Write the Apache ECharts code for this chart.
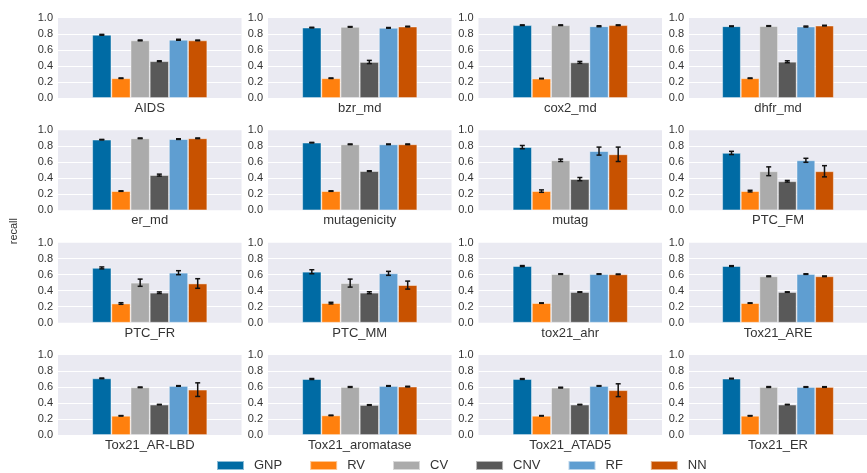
<!DOCTYPE html>
<html>
<head>
<meta charset="utf-8">
<script src="https://cdn.jsdelivr.net/npm/echarts@6/dist/echarts.min.js"></script>
<style>html,body{margin:0;padding:0;background:#fff}#c{width:867px;height:473px}</style>
</head>
<body>
<div id="c"></div>
<script>
// ---- data ----
const datasets = ['AIDS','bzr_md','cox2_md','dhfr_md','er_md','mutagenicity','mutag','PTC_FM',
  'PTC_FR','PTC_MM','tox21_ahr','Tox21_ARE','Tox21_AR-LBD','Tox21_aromatase','Tox21_ATAD5','Tox21_ER'];
const methods = ['GNP','RV','CV','CNV','RF','NN'];
const yTicks = [0.0, 0.2, 0.4, 0.6, 0.8, 1.0];

const GNP     = [0.79,0.88,0.91,0.897, 0.883,0.846,0.79,0.717, 0.685,0.637,0.708,0.708, 0.708,0.70,0.70,0.705];
const GNP_err = [0.005,0.004,0.004,0.004, 0.003,0.003,0.02,0.02, 0.012,0.025,0.006,0.005, 0.004,0.006,0.005,0.004];
const RV      = [0.247,0.247,0.243,0.247, 0.24,0.24,0.24,0.24, 0.24,0.245,0.245,0.245, 0.24,0.245,0.24,0.24];
const RV_err  = [0.003,0.003,0.003,0.003, 0.003,0.003,0.015,0.01, 0.01,0.01,0.003,0.003, 0.003,0.003,0.003,0.003];
const CV      = [0.72,0.889,0.91,0.90, 0.90,0.825,0.625,0.488, 0.50,0.495,0.608,0.58, 0.596,0.60,0.592,0.60];
const CV_err  = [0.005,0.004,0.004,0.004, 0.004,0.004,0.015,0.055, 0.045,0.05,0.004,0.005, 0.004,0.005,0.005,0.005];
const CNV     = [0.46,0.45,0.445,0.453, 0.44,0.49,0.39,0.363, 0.375,0.375,0.383,0.383, 0.38,0.375,0.38,0.38];
const CNV_err = [0.005,0.02,0.012,0.012, 0.012,0.004,0.02,0.01, 0.01,0.012,0.003,0.003, 0.003,0.004,0.003,0.003];
const RF      = [0.728,0.877,0.897,0.893, 0.89,0.825,0.74,0.625, 0.625,0.617,0.608,0.608, 0.613,0.613,0.613,0.60];
const RF_err  = [0.006,0.004,0.006,0.006, 0.004,0.004,0.05,0.025, 0.025,0.025,0.004,0.004, 0.004,0.004,0.004,0.004];
const NN      = [0.72,0.893,0.91,0.905, 0.90,0.825,0.70,0.488, 0.49,0.47,0.605,0.58, 0.567,0.605,0.56,0.60];
const NN_err  = [0.004,0.004,0.004,0.004, 0.004,0.004,0.09,0.07, 0.06,0.05,0.003,0.004, 0.085,0.004,0.08,0.004];

const values = [GNP, RV, CV, CNV, RF, NN];
const errors = [GNP_err, RV_err, CV_err, CNV_err, RF_err, NN_err];
const colors = ['#006BA4','#FF800E','#ABABAB','#595959','#5F9ED1','#C85200'];

// ---- layout ----
const colLeft = [58, 268, 478.5, 689];
const rowTop = [18, 130.3, 242.7, 355];
const panelW = 183.5, panelH = 80;
const barFrac = 0.1045;
const FONT = '"Liberation Sans", Arial, sans-serif';

const grids = [], xAxes = [], yAxes = [], series = [];
datasets.forEach((name, i) => {
  const r = Math.floor(i / 4), c = i % 4;
  grids.push({left: colLeft[c], top: rowTop[r], width: panelW, height: panelH,
    show: true, backgroundColor: '#EAEAF2', borderWidth: 0, containLabel: false});
  xAxes.push({type: 'category', gridIndex: i, data: [name],
    axisLine: {show: false}, axisTick: {show: false}, axisLabel: {show: false},
    name: name, nameLocation: 'middle', nameGap: 4,
    nameTextStyle: {fontFamily: FONT, fontSize: 13, color: '#333', verticalAlign: 'top'}});
  yAxes.push({type: 'value', gridIndex: i, min: yTicks[0], max: yTicks[yTicks.length-1], interval: 0.2,
    axisLine: {show: false}, axisTick: {show: false},
    axisLabel: {fontFamily: FONT, fontSize: 11, color: '#333', margin: 5, formatter: v => v.toFixed(1)},
    splitLine: {show: true, showMinLine: false, showMaxLine: false, lineStyle: {color: '#fff', width: 1}}});
  methods.forEach((m, k) => {
    series.push({type: 'bar', name: m, xAxisIndex: i, yAxisIndex: i,
      barWidth: (barFrac*100) + '%', barGap: '0%',
      itemStyle: {color: colors[k], borderColor: 'rgba(255,255,255,0.55)', borderWidth: 0.8},
      data: [values[k][i]], silent: true, animation: false});
  });
  const errData = methods.map((m, k) => [0, k, values[k][i] - errors[k][i], values[k][i] + errors[k][i]]);
  series.push({type: 'custom', xAxisIndex: i, yAxisIndex: i, data: errData, z: 10, silent: true, animation: false,
    renderItem: (params, api) => {
      const k = api.value(1);
      const band = api.size([1, 0])[0];
      const bw = band * barFrac;
      const lo = api.coord([0, api.value(2)]);
      const hi = api.coord([0, api.value(3)]);
      const x = lo[0] + (k - 2.5) * bw;
      const cap = 2.5;
      const st = {stroke: '#111', lineWidth: 1.5, fill: null};
      return {type: 'group', children: [
        {type: 'line', shape: {x1: x, y1: lo[1], x2: x, y2: hi[1]}, style: st},
        {type: 'line', shape: {x1: x - cap, y1: lo[1], x2: x + cap, y2: lo[1]}, style: st},
        {type: 'line', shape: {x1: x - cap, y1: hi[1], x2: x + cap, y2: hi[1]}, style: st}
      ]};
    }});
});

const chart = echarts.init(document.getElementById('c'), null, {renderer: 'canvas'});
chart.setOption({
  animation: false,
  backgroundColor: '#fff',
  grid: grids, xAxis: xAxes, yAxis: yAxes, series: series,
  legend: {data: methods.map((m, k) => ({name: m, itemStyle: {color: colors[k]}})),
    left: 211, top: 454, icon: 'rect', itemWidth: 27, itemHeight: 9, itemGap: 27,
    textStyle: {fontFamily: FONT, fontSize: 13, color: '#333', padding: [0, 0, 0, 5]}},
  graphic: [{type: 'text', left: 8, top: 218, rotation: Math.PI/2,
    style: {text: 'recall', fontFamily: FONT, fontSize: 11, fill: '#333'}}]
});
</script>
</body>
</html>
